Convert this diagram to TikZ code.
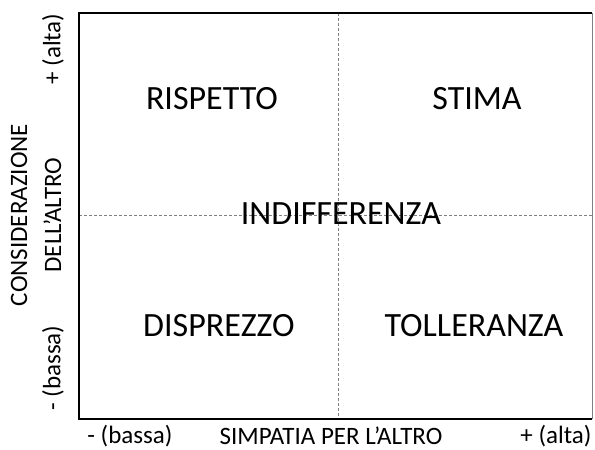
\documentclass[tikz,border=0pt]{standalone}
\usepackage{fontspec}
\setmainfont{Carlito}
\usepackage{tikz}

\begin{document}
\begin{tikzpicture}[x=1pt, y=-1pt,
     quad/.style={font=\fontsize{34}{40}\selectfont, inner sep=0pt},
     axis/.style={font=\fontsize{25}{34}\selectfont, inner sep=0pt},
     guide/.style={densely dashed, gray, line width=0.5pt}]
     \useasboundingbox (0,0) rectangle (595,450);

     \coordinate (TL) at (79, 13);
     \coordinate (TR) at (592, 13);
     \coordinate (BL) at (79, 419);
     \coordinate (BR) at (592, 419);
     \coordinate (T) at (338, 13);
     \coordinate (B) at (338, 419);
     \coordinate (L) at (79, 215);
     \coordinate (R) at (592, 215);

     \draw[guide] (T) -- (B);
     \draw[guide] (L) -- (R);
     \draw[gray, line width=0.8pt] (TR) -- (BR);
     \draw[line width=1.8pt] (TR) -- (TL) -- (BL) -- (BR);

     \node[quad] (rispetto) at (212, 99) {RISPETTO};
     \node[quad] (stima) at (477, 99) {STIMA};
     \node[quad] (indiff) at (341, 214) {INDIFFERENZA};
     \node[quad] (disprezzo) at (219, 326) {DISPREZZO};
     \node[quad] (tolleranza) at (474, 326) {TOLLERANZA};

     \node[axis, rotate=90] (yalta) at (53, 49) {+ (alta)};
     \node[axis, rotate=90] (ybassa) at (53, 368) {- (bassa)};
     \node[axis, rotate=90, align=center] (ytitle) at (36, 215) {CONSIDERAZIONE\\DELL’ALTRO};
     \node[axis] (xbassa) at (130, 436) {- (bassa)};
     \node[axis] (xtitle) at (331, 436) {SIMPATIA PER L’ALTRO};
     \node[axis] (xalta) at (556, 436.5) {+ (alta)};
\end{tikzpicture}
\end{document}
